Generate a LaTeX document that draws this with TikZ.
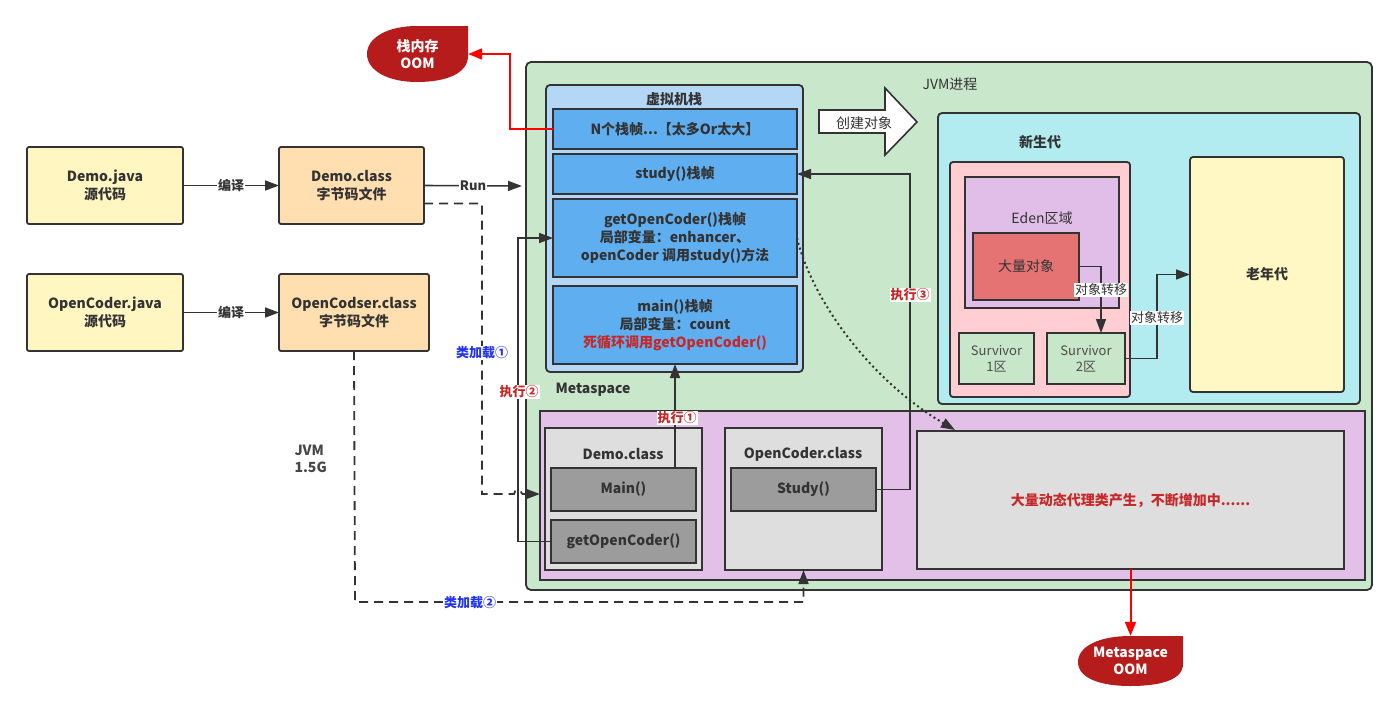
\documentclass[tikz,border=0pt]{standalone}
\usepackage{fontspec}
\setmainfont{Noto Sans CJK SC}
\usetikzlibrary{arrows.meta,calc}
\definecolor{bd}{HTML}{333333}
\definecolor{jvmg}{HTML}{C9E7CB}
\definecolor{stk}{HTML}{B3D7F5}
\definecolor{frm}{HTML}{5EAEF0}
\definecolor{metac}{HTML}{E2C0E8}
\definecolor{clsg}{HTML}{DEDEDE}
\definecolor{mth}{HTML}{9C9C9C}
\definecolor{newgen}{HTML}{B2EBF0}
\definecolor{pinkc}{HTML}{FFCDD2}
\definecolor{edenc}{HTML}{E1BEE7}
\definecolor{objr}{HTML}{E57373}
\definecolor{survc}{HTML}{C8E6C9}
\definecolor{oldy}{HTML}{FFF8C4}
\definecolor{srcy}{HTML}{FFF6C2}
\definecolor{clso}{HTML}{FFDFB0}
\definecolor{oomr}{HTML}{B71C1C}
\definecolor{redt}{HTML}{C62828}
\definecolor{bluet}{HTML}{2233EE}
\definecolor{redl}{HTML}{FF0000}
\newcommand\myfs[2]{\fontsize{#1}{#2}\selectfont}
\newcommand\mybox[7]{%
  \pgfmathsetmacro\bw{#4-#2}\pgfmathsetmacro\bh{#5-#3}%
  \node[#6, minimum width=\bw pt, minimum height=\bh pt, inner sep=0pt, outer sep=0pt] (#1) at ({(#2+#4)/2},{(#3+#5)/2}) {#7};}
\begin{document}
\begin{tikzpicture}[x=1pt,y=-1pt,
  box/.style={draw=bd, line width=1.8pt, rounded corners=2pt, font=\bfseries\myfs{14}{18}, text=bd, align=center},
  plain/.style={draw=bd, line width=1.8pt, rounded corners=2pt, font=\myfs{14}{17}, text=bd, align=center},
  arr/.style={draw=bd, line width=1.6pt, -{Triangle[length=14pt,width=10pt]}},
  dsh/.style={draw=bd, line width=1.8pt, dash pattern=on 9pt off 6pt},
  redarr/.style={draw=redl, line width=2pt, -{Triangle[length=14pt,width=11pt]}},
  lbl/.style={fill=white, inner sep=1pt, font=\bfseries\myfs{13}{15}, text=bd},
  lblr/.style={fill=white, inner sep=1pt, font=\bfseries\myfs{13}{15}, text=redt},
  lblb/.style={fill=white, inner sep=1pt, font=\bfseries\myfs{13}{15}, text=bluet},
  lbln/.style={fill=white, inner sep=1pt, font=\myfs{13}{15}, text=bd},
  oomtxt/.style={font=\bfseries\myfs{14}{17}, text=white, align=center, inner sep=0pt}
]
\useasboundingbox (0,0) rectangle (1400,713);
\fill[white] (0,0) rectangle (1400,713);

% source / class files
\mybox{djava}{27}{147}{183}{224}{box, fill=srcy}{Demo.java\\源代码}
\mybox{dclass}{279}{147}{424}{224}{box, fill=clso}{Demo.class\\字节码文件}
\mybox{ojava}{27}{274}{183}{351}{box, fill=srcy}{OpenCoder.java\\源代码}
\mybox{oclass}{279}{274}{429}{351}{box, fill=clso}{OpenCodser.class\\字节码文件}

% JVM process
\mybox{jvm}{526}{62}{1372}{590}{box, fill=jvmg, rounded corners=5pt}{}
\node[font=\myfs{14}{17}, text=bd] (jvmtitle) at (950,84) {JVM进程};

% stack
\mybox{stack}{546}{85}{803}{372}{box, fill=stk, rounded corners=4pt}{}
\node[font=\bfseries\myfs{14}{17}, text=bd] (stacktitle) at (674,99) {虚拟机栈};
\mybox{nf}{553}{109}{797}{149}{box, fill=frm, rounded corners=0pt}{N个栈帧...【太多Or太大】}
\mybox{sf}{553}{154}{797}{194}{box, fill=frm, rounded corners=0pt}{study()栈帧}
\mybox{gf}{553}{199}{797}{277}{box, fill=frm, rounded corners=0pt}{getOpenCoder()栈帧\\局部变量：enhancer、\\openCoder 调用study()方法}
\mybox{mf}{553}{286}{797}{364}{box, fill=frm, rounded corners=0pt}{main()栈帧\\局部变量：count\\{\color{redt}死循环调用getOpenCoder()}}

% create object arrow
\draw[draw=bd, line width=1.6pt, fill=white, line join=miter] (819,110) -- (885,110) -- (885,88) -- (917,122) -- (885,155) -- (885,133) -- (819,133) -- cycle;
\node[font=\myfs{14}{17}, text=bd] (create) at (864,123) {创建对象};

% new generation
\mybox{ng}{938}{113}{1360}{404}{box, fill=newgen, rounded corners=4pt}{}
\node[font=\bfseries\myfs{14}{17}, text=bd] (ngtitle) at (1040,142) {新生代};
\mybox{pk}{950}{162}{1130}{397}{box, fill=pinkc, rounded corners=3pt}{}
\mybox{eden}{965}{177}{1119}{308}{box, fill=edenc, rounded corners=0pt}{}
\node[font=\myfs{14}{17}, text=bd] (edentitle) at (1042,218) {Eden区域};
\mybox{bigobj}{973}{233}{1079}{300}{plain, fill=objr, rounded corners=0pt}{大量对象}
\mybox{surv1}{959}{333}{1034}{384}{plain, fill=survc, rounded corners=0pt, font=\myfs{13}{16}, text=black!70}{Survivor\\1区}
\mybox{surv2}{1047}{333}{1125}{384}{plain, fill=survc, rounded corners=0pt, font=\myfs{13}{16}, text=black!70}{Survivor\\2区}
\mybox{old}{1190}{157}{1344}{392}{box, fill=oldy, rounded corners=3pt}{老年代}

% metaspace
\node[font=\bfseries\myfs{14}{17}, text=bd, anchor=west] (metatitle) at (552,390) {Metaspace};
\mybox{meta}{540}{411}{1365}{580}{box, fill=metac, rounded corners=0pt}{}
\mybox{dcm}{545}{428}{702}{570}{box, fill=clsg, rounded corners=0pt}{}
\node[font=\bfseries\myfs{14}{17}, text=bd] (dcmtitle) at (623,454) {Demo.class};
\mybox{mainm}{551}{468}{696}{511}{box, fill=mth, rounded corners=0pt}{Main()}
\mybox{gm}{551}{520}{696}{563}{box, fill=mth, rounded corners=0pt}{getOpenCoder()}
\mybox{ocm}{725}{428}{882}{570}{box, fill=clsg, rounded corners=0pt}{}
\node[font=\bfseries\myfs{14}{17}, text=bd] (ocmtitle) at (803,454) {OpenCoder.class};
\mybox{studym}{731}{468}{876}{511}{box, fill=mth, rounded corners=0pt}{Study()}
\mybox{big}{917}{431}{1344}{569}{box, fill=clsg, rounded corners=0pt, text=redt}{大量动态代理类产生，不断增加中......}

% JVM 1.5G
\node[font=\bfseries\myfs{14}{17}, text=black!72, align=left, anchor=west] (jvmsize) at (291,459) {JVM\\1.5G};

% OOM bubbles
\fill[oomr] (468,26) -- (468,56) .. controls (468,74) and (445,82) .. (417,82) .. controls (387,82) and (367,70) .. (367,54) .. controls (367,38) and (387,26) .. (417,26) -- cycle;
\node[oomtxt, minimum width=101pt, minimum height=56pt] (oom1) at (417.5,54) {栈内存\\OOM};
\fill[oomr] (1183,636) -- (1183,664) .. controls (1183,680) and (1160,686) .. (1130,686) .. controls (1100,686) and (1078,678) .. (1078,662) .. controls (1078,646) and (1100,636) .. (1130,636) -- cycle;
\node[oomtxt, minimum width=105pt, minimum height=50pt] (oom2) at (1130.5,661) {Metaspace\\OOM};

% coordinates
\coordinate (runend) at (522,186);
\coordinate (rb) at (510,0);
\coordinate (cl1) at (482,494);
\coordinate (x2) at (518,0);
\coordinate (x3) at (910,0);
\coordinate (t1) at (1101,0);
\coordinate (t2) at (1157,0);
\coordinate (cl2) at (355,602);
\coordinate (dotend) at (955,430);

% compile / run
\draw[arr] (djava.east) -- node[lbl] {编译} (dclass.west);
\draw[arr] (ojava.east) -- node[lbl] {编译} (oclass.west);
\draw[arr] (dclass.east) -- node[lbl] {Run} (runend);

% class loading 1 (dashed)
\draw[dsh] ([yshift=-18pt]dclass.east) -| (cl1) -- (514,494) arc[start angle=180, end angle=360, radius=4];
\draw[dsh, -{Triangle[length=14pt,width=10pt]}] (522,494) -- (meta.west |- cl1);
\node[lblb] (l1) at (482,353) {类加载①};

% class loading 2 (dashed)
\draw[dsh, -{Triangle[length=14pt,width=10pt]}] (oclass.south) -- (cl2) -- (cl2 -| ocm.south) -- (ocm.south);
\node[lblb] (l2) at (470,603) {类加载②};

% execute 1
\draw[arr] (mainm.north -| mf.south) -- (mf.south);
\node[lblr] (e1) at (677,418) {执行①};
% execute 2
\draw[arr] (gm.west) -- (x2 |- gm.west) -- (x2 |- gf.west) -- (gf.west);
\node[lblr] (e2) at (519,392) {执行②};
% execute 3
\draw[arr] (studym.east) -- (x3 |- studym.east) -- (x3 |- sf.east) -- (sf.east);
\node[lblr] (e3) at (910,295) {执行③};

% dotted curve
\draw[draw=bd, line width=2pt, dash pattern=on 2pt off 3pt, -{Triangle[length=14pt,width=10pt]}] (gf.east) .. controls (812,300) and (870,380) .. (dotend);

% object transfer
\draw[arr] (bigobj.east) -- (t1 |- bigobj.east) -- (t1 |- surv2.north);
\node[lbln] (tr1) at (1101,290) {对象转移};
\draw[arr] (surv2.east) -- (t2 |- surv2.east) -- (t2 |- old.west) -- (old.west);
\node[lbln] (tr2) at (1157,318) {对象转移};

% OOM arrows
\draw[redarr] (nf.west) -- (rb |- nf.west) -- (rb |- oom1.east) -- (oom1.east);
\draw[redarr] (big.south) -- (oom2.north);
\end{tikzpicture}
\end{document}
